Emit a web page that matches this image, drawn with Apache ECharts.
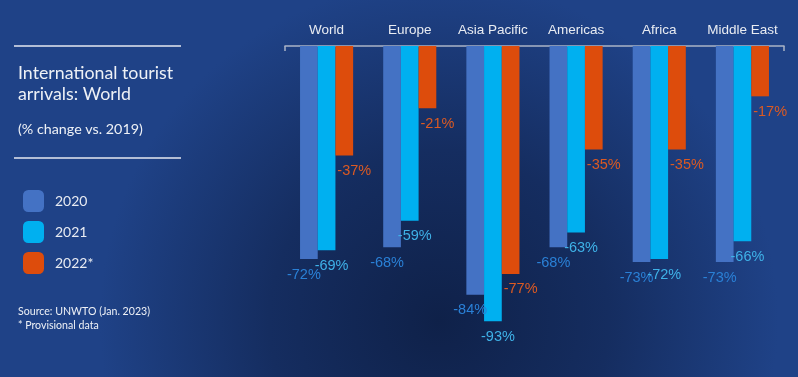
<!DOCTYPE html>
<html>
<head>
<meta charset="utf-8">
<script src="https://cdn.jsdelivr.net/npm/echarts@6/dist/echarts.min.js"></script>
<style>
html,body{margin:0;padding:0;background:#152c5e;}
#chart{width:798px;height:377px;}
</style>
</head>
<body>
<div id="chart"></div>
<script>
var categories = ['World', 'Europe', 'Asia Pacific', 'Americas', 'Africa', 'Middle East'];
var seriesNames = ['2020', '2021', '2022*'];
var values2020 = [-72, -68, -84, -68, -73, -73];
var values2021 = [-69, -59, -93, -63, -72, -66];
var values2022 = [-37, -21, -77, -35, -35, -17];

var chart = echarts.init(document.getElementById('chart'));
var labelFont = '"Liberation Sans", Arial, sans-serif';
var panelFont = 'Lato, "Open Sans", sans-serif';

function makeSeries(name, data, color, labelColor, dx) {
  return {
    name: name,
    type: 'bar',
    data: data,
    barWidth: 17.7,
    barGap: '0%',
    itemStyle: { color: color },
    label: {
      show: true,
      position: 'bottom',
      distance: 8,
      offset: [dx, 0],
      formatter: '{c}%',
      color: labelColor,
      fontSize: 14.5,
      fontFamily: labelFont
    }
  };
}

chart.setOption({
  backgroundColor: {
    type: 'radial', x: 0.55, y: 0.85, r: 0.9,
    colorStops: [
      { offset: 0, color: '#0f2149' },
      { offset: 0.5, color: '#152d60' },
      { offset: 1, color: '#1f4287' }
    ]
  },
  animation: false,
  grid: { left: 285, right: 14, top: 46, height: 296 },
  xAxis: {
    type: 'category',
    position: 'top',
    data: categories,
    axisLine: { lineStyle: { color: '#aab4c6', width: 1.5 } },
    axisTick: {
      show: true, inside: true, length: 5,
      lineStyle: { color: '#aab4c6', width: 1.5 },
      interval: function (i) { return i === 0 || i === categories.length; }
    },
    axisLabel: { color: '#e9ecf2', fontSize: 13.5, fontFamily: labelFont, margin: 9, interval: 0 }
  },
  yAxis: {
    type: 'value',
    min: -100, max: 0,
    show: false,
    splitLine: { show: false }
  },
  legend: {
    data: seriesNames,
    orient: 'vertical',
    left: 23, top: 190, padding: 0,
    itemWidth: 21, itemHeight: 22, itemGap: 9,
    icon: 'roundRect',
    textStyle: { color: '#e8ebf2', fontSize: 14, fontFamily: panelFont, padding: [0, 0, 0, 6] }
  },
  graphic: [
    { type: 'line', shape: { x1: 14, y1: 46, x2: 181, y2: 46 }, style: { stroke: '#e6e9f0', lineWidth: 1.5 } },
    { type: 'text', left: 18, top: 64, style: { text: 'International tourist', fill: '#eef1f6', font: '17.8px ' + panelFont } },
    { type: 'text', left: 18, top: 85, style: { text: 'arrivals: World', fill: '#eef1f6', font: '17.8px ' + panelFont } },
    { type: 'text', left: 18, top: 122, style: { text: '(% change vs. 2019)', fill: '#eef1f6', font: '14.3px ' + panelFont } },
    { type: 'line', shape: { x1: 14, y1: 158, x2: 181, y2: 158 }, style: { stroke: '#e6e9f0', lineWidth: 1.5 } },
    { type: 'text', left: 18, top: 306, style: { text: 'Source: UNWTO (Jan. 2023)', fill: '#eef1f6', font: '10.6px ' + panelFont } },
    { type: 'text', left: 18, top: 320, style: { text: '* Provisional data', fill: '#eef1f6', font: '10.6px ' + panelFont } }
  ],
  series: [
    makeSeries(seriesNames[0], values2020, '#4472c4', '#2a80d6', -5),
    makeSeries(seriesNames[1], values2021, '#00b0f0', '#3fb2e8', 5),
    makeSeries(seriesNames[2], values2022, '#dd4c0c', '#dc5a22', 10)
  ]
});
</script>
</body>
</html>
